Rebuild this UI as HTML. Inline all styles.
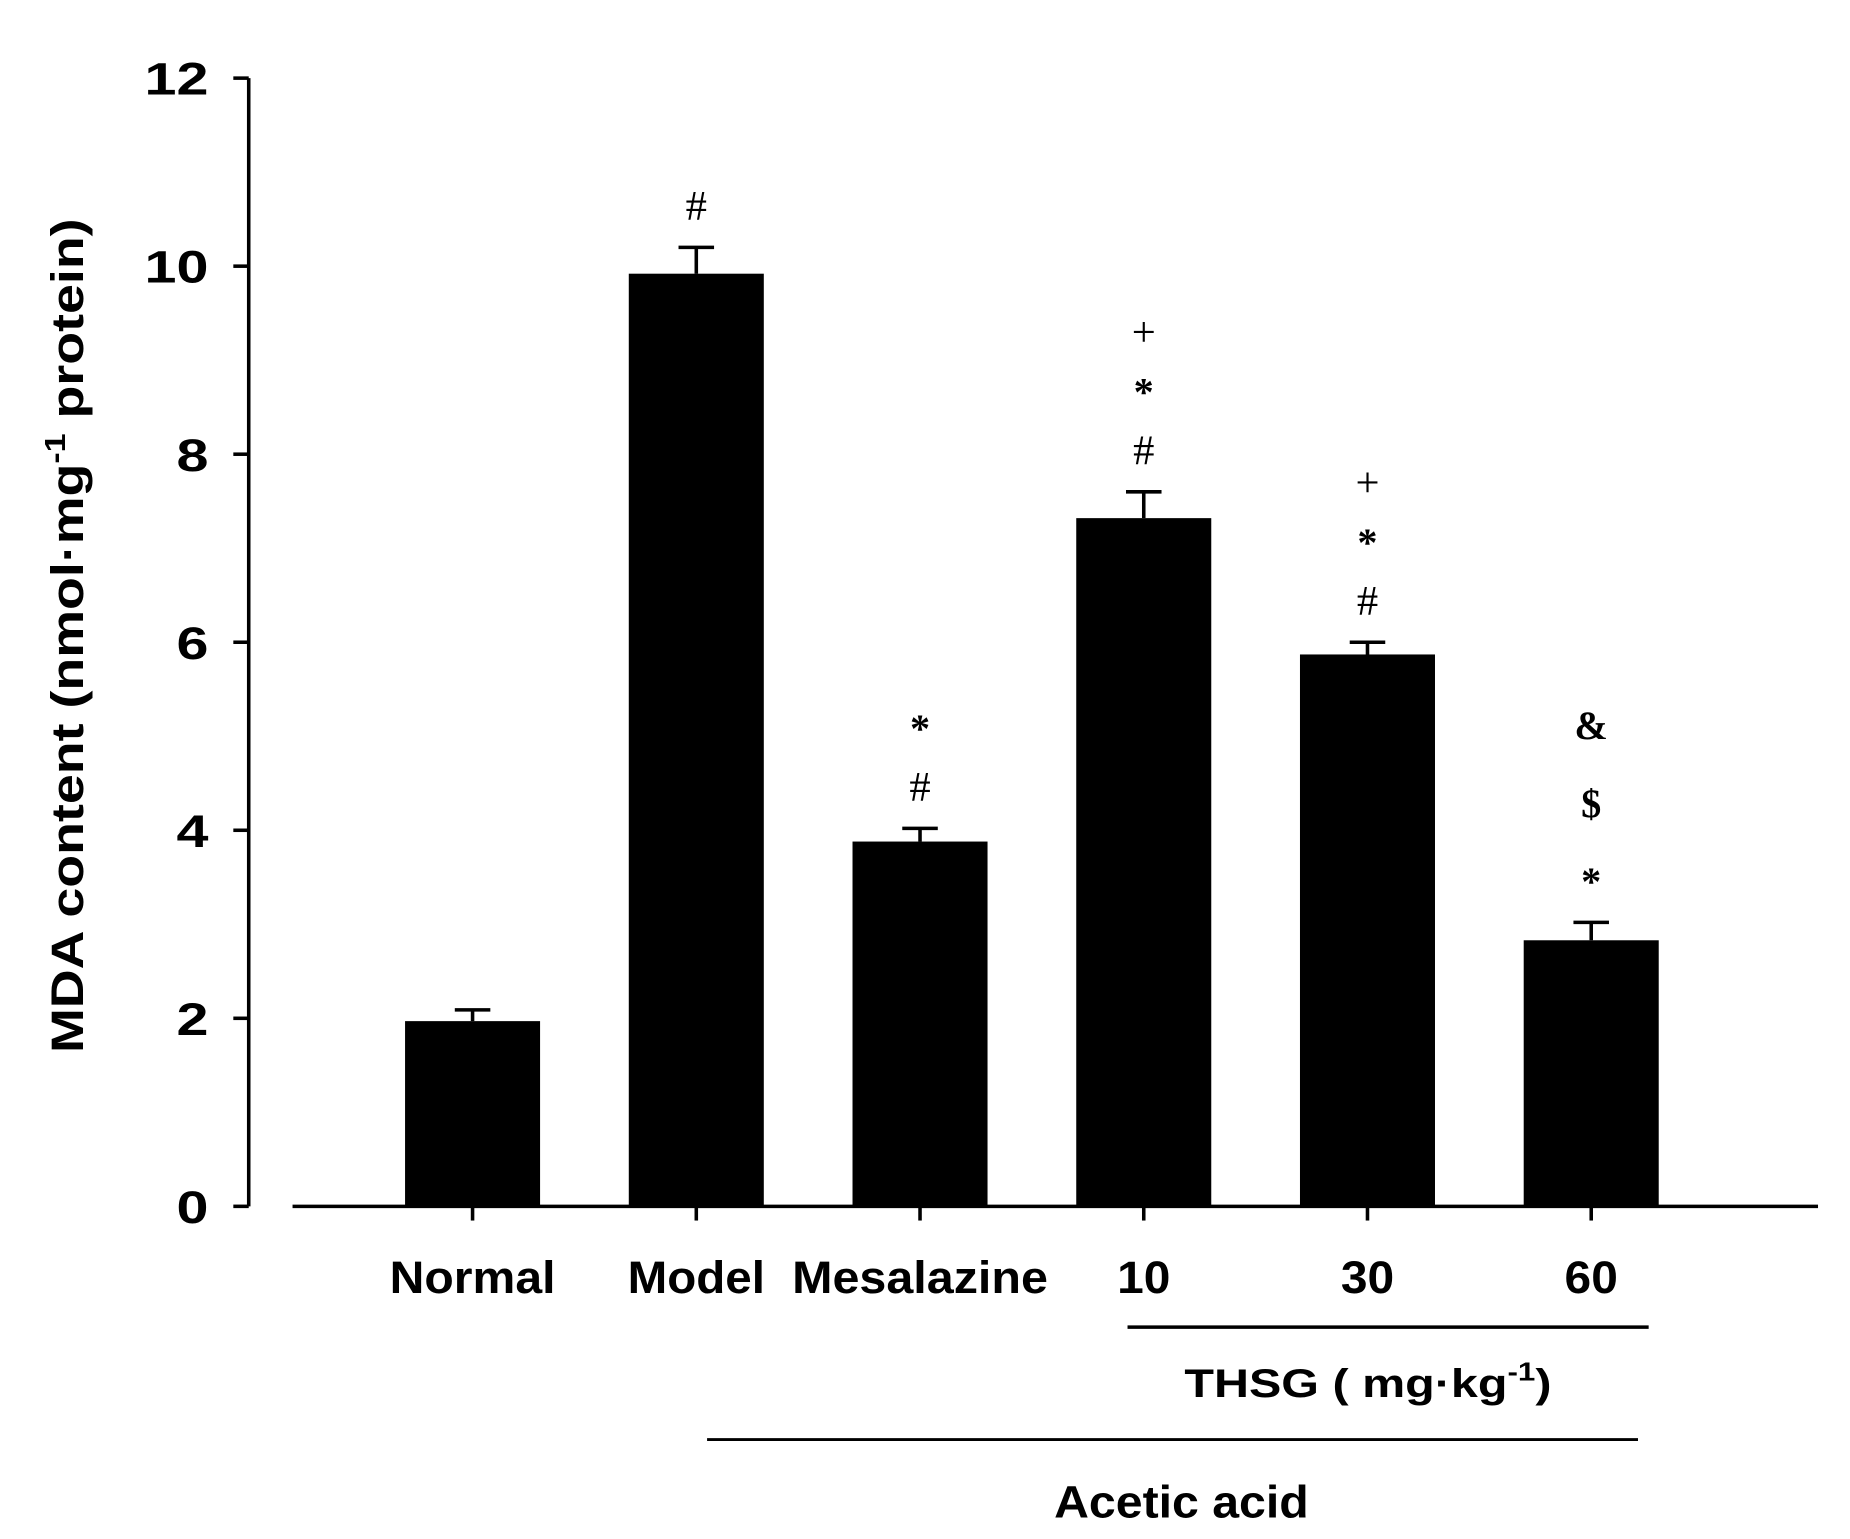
<!DOCTYPE html>
<html><head><meta charset="utf-8"><style>
html,body{margin:0;padding:0;background:#fff;}
svg{display:block;}
text{font-family:"Liberation Sans",Arial,sans-serif;font-weight:bold;fill:#000;}
.ann{font-family:"Liberation Serif","Times New Roman",serif;}
</style></head><body>
<svg id="chart" width="1850" height="1539" viewBox="0 0 1562 1300" preserveAspectRatio="none" xmlns="http://www.w3.org/2000/svg">
<g id="axes"></g>
<g id="bars"></g>
<g id="annots"></g>
<text transform="translate(70,537) rotate(-90)" text-anchor="middle" font-size="38" textLength="705" lengthAdjust="spacingAndGlyphs">MDA content (nmol·mg<tspan dy="-15" font-size="24">-1</tspan><tspan dy="15"> protein)</tspan></text>
<line x1="952" y1="1121" x2="1392" y2="1121" stroke="#000" stroke-width="3"/>
<text x="1000" y="1180" font-size="34" textLength="310" lengthAdjust="spacingAndGlyphs">THSG ( mg·kg<tspan dy="-14" font-size="22">-1</tspan><tspan dy="14">)</tspan></text>
<line x1="597" y1="1216" x2="1383" y2="1216" stroke="#000" stroke-width="2.5"/>
<text x="890" y="1282" font-size="38" textLength="215" lengthAdjust="spacingAndGlyphs">Acetic acid</text>
</svg>
<script>
const categories = ["Normal","Model","Mesalazine","10","30","60"];
const values = [1.97, 9.92, 3.88, 7.32, 5.87, 2.83];
const errors = [0.12, 0.28, 0.14, 0.28, 0.13, 0.19];
const annotations = [[], ["#"], ["#","*"], ["#","*","+"], ["#","*","+"], ["*","$","&"]];
const yTicks = [0,2,4,6,8,10,12];
const NS="http://www.w3.org/2000/svg";
const y = v => 1019 - v*(1019-66)/12;
const x = i => 399 + i*188.9;
const labelW = {"Normal":140,"Model":116,"Mesalazine":216,"10":45,"30":45,"60":45};
function mk(tag, attrs, parent){const e=document.createElementNS(NS,tag);for(const k in attrs)e.setAttribute(k,attrs[k]);parent.appendChild(e);return e;}
const axes=document.getElementById('axes'), bars=document.getElementById('bars'), ann=document.getElementById('annots');
let e=mk('line',{x1:210,y1:y(12),x2:210,y2:y(0),stroke:'#000','stroke-width':3},axes);


e=mk('line',{x1:247,y1:1019,x2:1535,y2:1019,stroke:'#000','stroke-width':3},axes);


yTicks.forEach(t=>{
  let l=mk('line',{x1:197,y1:y(t),x2:210,y2:y(t),stroke:'#000','stroke-width':3},axes);
  
  
  const s=String(t);
  let tx=mk('text',{x:176,y:y(t)+14,'text-anchor':'end','font-size':38,textLength:s.length*27,lengthAdjust:'spacingAndGlyphs'},axes);
  tx.textContent=s;
  
  
});
categories.forEach((c,i)=>{
  const cx=x(i);
  let l=mk('line',{x1:cx,y1:1019,x2:cx,y2:1031,stroke:'#000','stroke-width':3},axes);
  
  
  let tx=mk('text',{x:cx,y:1092,'text-anchor':'middle','font-size':38,textLength:labelW[c]||45,lengthAdjust:'spacingAndGlyphs'},axes);
  tx.textContent=c;
  
  
  let r=mk('rect',{x:cx-57,y:y(values[i]),width:114,height:y(0)-y(values[i]),fill:'#000'},bars);
  
  
  const top=y(values[i]+errors[i]);
  let eb=mk('path',{d:`M${cx} ${y(values[i])}V${top}M${cx-15} ${top}H${cx+15}`,stroke:'#000','stroke-width':3,fill:'none'},bars);
  
  
  const gap = annotations[i][1]==='$' ? 66 : 50;
  annotations[i].forEach((s,k)=>{
    const bold = (s==='*'||s==='$'||s==='&');
    let a=mk('text',{class:'ann',x:cx,y:top-35-k*gap+12,'text-anchor':'middle','font-size':bold?34:36,style:bold?'':'font-weight:normal'},ann);
    a.textContent=s;
    
    
  });
});
</script>
</body></html>
